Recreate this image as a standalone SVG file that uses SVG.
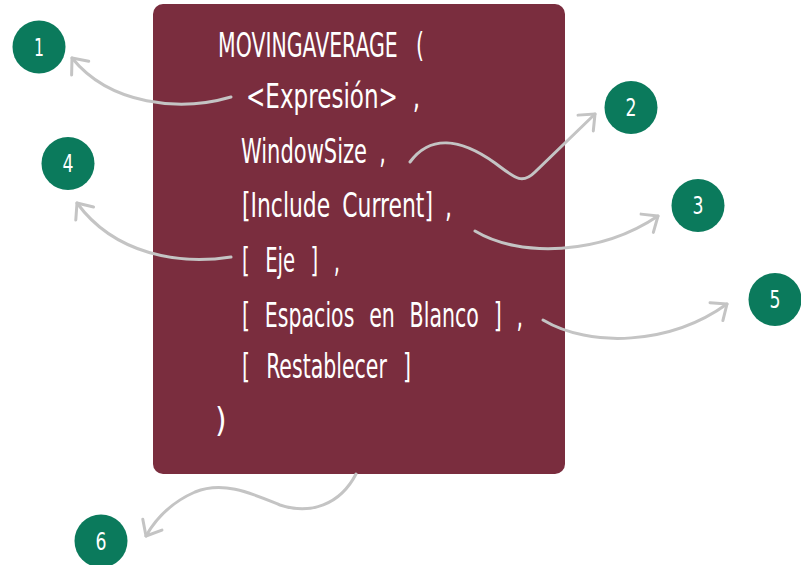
<svg xmlns="http://www.w3.org/2000/svg" width="801" height="565" viewBox="0 0 801 565">
  <style>
    .code { font-family: "DejaVu Sans Condensed", "Liberation Sans Narrow", "Liberation Sans", sans-serif; font-size: 33px; fill: #ffffff; }
    .num { font-family: "DejaVu Sans Condensed", "Liberation Sans Narrow", "Liberation Sans", sans-serif; font-size: 24px; fill: #ffffff; text-anchor: middle; }
    .badge { fill: #0b7a5c; }
    .link { fill: none; stroke: #c4c4c4; stroke-width: 3; stroke-linecap: round; marker-end: url(#chev); }
  </style>
  <defs>
    <marker id="chev" markerUnits="userSpaceOnUse" markerWidth="30" markerHeight="30" viewBox="-16 -15 20 30" refX="0" refY="0" orient="auto">
      <path d="M -13 -11 L 0 0 L -13 11" fill="none" stroke="#c4c4c4" stroke-width="3" stroke-linecap="round" stroke-linejoin="round"/>
    </marker>
  </defs>

  <rect width="801" height="565" fill="#ffffff"/>

  <!-- function signature card: one line per argument, condensed to the card width -->
  <g id="signature">
    <rect x="153" y="4" width="412" height="470" rx="10" fill="#7a2d3e"/>
    <text class="code" x="218" y="57" word-spacing="17" textLength="206" lengthAdjust="spacingAndGlyphs">MOVINGAVERAGE (</text>
    <text class="code" x="246" y="108" word-spacing="9.5" textLength="174" lengthAdjust="spacingAndGlyphs">&lt;Expresión&gt; ,</text>
    <text class="code" x="241" y="163" word-spacing="8" textLength="145" lengthAdjust="spacingAndGlyphs">WindowSize ,</text>
    <text class="code" x="242" y="217" word-spacing="7" textLength="210" lengthAdjust="spacingAndGlyphs">[Include Current] ,</text>
    <text class="code" x="242" y="272" word-spacing="14" textLength="98" lengthAdjust="spacingAndGlyphs">[ Eje ] ,</text>
    <text class="code" x="242" y="327" word-spacing="12" textLength="281" lengthAdjust="spacingAndGlyphs">[ Espacios en Blanco ] ,</text>
    <text class="code" x="242" y="378" word-spacing="14" textLength="169" lengthAdjust="spacingAndGlyphs">[ Restablecer ]</text>
    <text class="code" x="215" y="432">)</text>
  </g>

  <!-- numbered callouts -->
  <g id="badge-1"><circle class="badge" cx="39" cy="47" r="26.5"/><text class="num" x="39" y="56" textLength="10" lengthAdjust="spacingAndGlyphs">1</text></g>
  <g id="badge-2"><circle class="badge" cx="631" cy="107.5" r="26.5"/><text class="num" x="631" y="116" textLength="11" lengthAdjust="spacingAndGlyphs">2</text></g>
  <g id="badge-3"><circle class="badge" cx="698" cy="205.5" r="26.5"/><text class="num" x="698" y="214" textLength="11" lengthAdjust="spacingAndGlyphs">3</text></g>
  <g id="badge-4"><circle class="badge" cx="68" cy="163.5" r="26.5"/><text class="num" x="68" y="172" textLength="11" lengthAdjust="spacingAndGlyphs">4</text></g>
  <g id="badge-5"><circle class="badge" cx="775" cy="299.5" r="26.5"/><text class="num" x="775" y="308" textLength="11" lengthAdjust="spacingAndGlyphs">5</text></g>
  <g id="badge-6"><circle class="badge" cx="101" cy="541" r="26.5"/><text class="num" x="101" y="550" textLength="11" lengthAdjust="spacingAndGlyphs">6</text></g>

  <!-- connectors from each argument to its callout -->
  <g id="connectors">
    <path class="link" d="M 231 97 C 180 112, 110 105, 72 58"/>
    <path class="link" d="M 410 162 C 430 135, 460 138, 495 163 C 515 178, 522 185, 535 172 L 595 114"/>
    <path class="link" d="M 475 231 C 520 258, 600 255, 658 216"/>
    <path class="link" d="M 231 257 C 180 265, 115 255, 77 203"/>
    <path class="link" d="M 543 320 C 590 348, 670 345, 727 304"/>
    <path class="link" d="M 356 474 C 340 505, 310 515, 280 505 C 255 495, 225 480, 195 492 C 170 503, 155 520, 146 536"/>
  </g>
</svg>
